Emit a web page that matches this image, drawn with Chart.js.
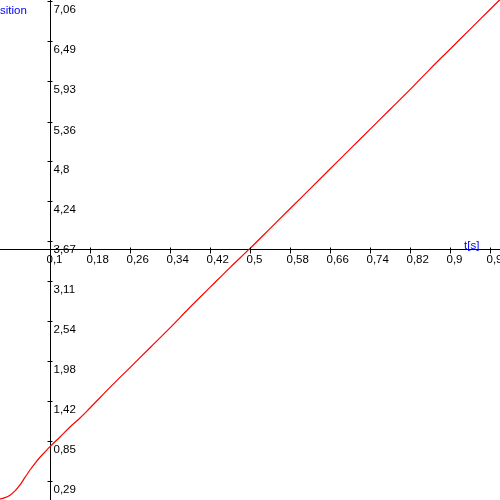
<!DOCTYPE html>
<html>
<head>
<meta charset="utf-8">
<script src="https://cdn.jsdelivr.net/npm/chart.js@4/dist/chart.umd.min.js"></script>
<style>
  html, body { margin: 0; padding: 0; background: #fff; }
  #wrap { width: 500px; height: 500px; position: relative; }
</style>
</head>
<body>
<div id="wrap"><canvas id="grafico"></canvas></div>
<script>
var times = [0, 0.01, 0.02, 0.03, 0.04, 0.05, 0.06, 0.07, 0.08, 0.09, 0.1, 0.12, 0.14, 0.16, 0.18,
    0.22, 0.26, 0.3, 0.34, 0.38, 0.42, 0.46, 0.5, 0.54, 0.58, 0.62, 0.66, 0.7, 0.74, 0.78,
    0.82, 0.86, 0.9, 0.94, 0.98, 1.0];
var positions = [0.035, 0.055, 0.09, 0.15, 0.234, 0.34, 0.445, 0.54, 0.625, 0.70, 0.774, 0.911, 1.052, 1.178, 1.32,
    1.61, 1.89, 2.17, 2.45, 2.74, 3.02, 3.30, 3.57, 3.85, 4.13, 4.41, 4.69, 4.97, 5.25, 5.53,
    5.81, 6.10, 6.38, 6.66, 6.94, 7.08];
var xTicks = [0.1, 0.18, 0.26, 0.34, 0.42, 0.5, 0.58, 0.66, 0.74, 0.82, 0.9, 0.98];
var yTicks = [0.29, 0.85, 1.42, 1.98, 2.54, 3.11, 3.67, 4.24, 4.8, 5.36, 5.93, 6.49, 7.06];

var fonte = '11.5px "Liberation Sans", Arial, sans-serif';

function virgula(v) {
    return String(v).replace('.', ',');
}

// ticks, labels and axis titles drawn on top of the axes
var eixos = {
    id: 'eixos',
    afterDraw: function(chart) {
        var ctx = chart.ctx;
        var sx = chart.scales.x, sy = chart.scales.y;
        var ax = Math.round(sx.getPixelForValue(0.1)) + 0.5;
        var ay = Math.round(sy.getPixelForValue(3.548)) + 0.5;
        ctx.save();
        ctx.strokeStyle = '#000';
        ctx.lineWidth = 1;
        ctx.fillStyle = '#000';
        ctx.font = fonte;
        ctx.textAlign = 'left';
        ctx.textBaseline = 'alphabetic';

        sx.ticks.forEach(function(t) {
            var px = Math.round(sx.getPixelForValue(t.value)) + 0.5;
            ctx.beginPath();
            ctx.moveTo(px, ay - 3);
            ctx.lineTo(px, ay + 3);
            ctx.stroke();
            ctx.fillText(virgula(t.value), px - 4, ay + 12);
        });

        sy.ticks.forEach(function(t) {
            var py = Math.round(sy.getPixelForValue(t.value)) + 0.5;
            ctx.beginPath();
            ctx.moveTo(ax - 3, py);
            ctx.lineTo(ax + 2, py);
            ctx.stroke();
            ctx.fillText(virgula(t.value), ax + 3, py + 11);
        });

        ctx.fillStyle = '#0000ff';
        ctx.fillText('t[s]', 464, ay - 2);
        // y title is cut by the left edge, only "sition" shows
        ctx.textAlign = 'right';
        ctx.fillText('position', ctx.measureText('sition').width, 14);
        ctx.restore();
    }
};

function loadGrafico() {
    var ctx = document.getElementById('grafico').getContext('2d');
    window.grafico = new Chart(ctx, {
        type: 'line',
        data: {
            datasets: [{
                data: times.map(function(t, i) { return {x: t, y: positions[i]}; }),
                borderColor: 'rgb(255, 0, 0)',
                borderWidth: 1.2,
                pointRadius: 0,
                fill: false,
                cubicInterpolationMode: 'monotone'
            }]
        },
        options: {
            responsive: true,
            maintainAspectRatio: false,
            animation: false,
            devicePixelRatio: 1,
            layout: { padding: 0 },
            plugins: {
                legend: { display: false },
                tooltip: { enabled: false }
            },
            scales: {
                x: {
                    type: 'linear',
                    min: 0,
                    max: 1,
                    position: { y: 3.548 },
                    grid: { display: false },
                    border: { display: true, color: '#000', width: 1 },
                    ticks: { display: false },
                    afterBuildTicks: function(scale) {
                        scale.ticks = xTicks.map(function(v) { return {value: v}; });
                    }
                },
                y: {
                    type: 'linear',
                    min: 0.022,
                    max: 7.074,
                    position: { x: 0.1 },
                    grid: { display: false },
                    border: { display: true, color: '#000', width: 1 },
                    ticks: { display: false },
                    afterBuildTicks: function(scale) {
                        scale.ticks = yTicks.map(function(v) { return {value: v}; });
                    }
                }
            }
        },
        plugins: [eixos]
    });
}

loadGrafico();
</script>
</body>
</html>
